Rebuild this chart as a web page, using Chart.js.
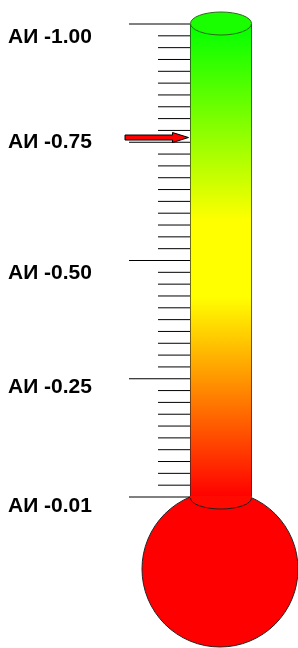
<!DOCTYPE html>
<html><head><meta charset="utf-8">
<script src="https://cdn.jsdelivr.net/npm/chart.js@4.4.0/dist/chart.umd.min.js"></script>
<style>html,body{margin:0;padding:0;background:#fff;}#wrap{width:298px;height:648px;}</style>
</head><body><div id="wrap"><canvas id="c" width="298" height="648"></canvas></div>
<script>
// ---- data ----
const categories = ['АИ'];
const scaleMin = -1.00;
const scaleMax = 0.00;
const tubeRange = [0.00, -1.00];
const pointerValue = -0.76;
const majorValues = [-1.00, -0.75, -0.50, -0.25, 0.00];
const tickLabels = ['АИ -1.00', 'АИ -0.75', 'АИ -0.50', 'АИ -0.25', 'АИ -0.01'];
const minorStep = 0.025;

// ---- styles ----
const labelNudge = [13, 0, 13, 8, 9];
const gradientStops = [[0, '#00ff00'], [0.415, '#ffff00'], [0.577, '#ffff00'], [1, '#ff0000']];

const thermo = {
  id: 'thermo',
  beforeDatasetsDraw(chart) {
    const { ctx, chartArea: a } = chart;
    const cx = (a.left + a.right) / 2;
    ctx.save();
    ctx.beginPath();
    ctx.arc(cx - 1, a.bottom + 72, 78, 0, Math.PI * 2);
    ctx.fillStyle = '#ff0000';
    ctx.fill();
    ctx.lineWidth = 1;
    ctx.strokeStyle = '#222';
    ctx.stroke();
    ctx.restore();
  },
  afterDatasetsDraw(chart) {
    const { ctx, chartArea: a } = chart;
    const y = chart.scales.y;
    const cx = (a.left + a.right) / 2;
    const rx = (a.right - a.left) / 2;
    ctx.save();
    // bottom of tube
    ctx.beginPath();
    ctx.moveTo(a.left, a.bottom - 1);
    ctx.lineTo(a.left, a.bottom + 1);
    ctx.ellipse(cx, a.bottom + 1, rx - 0.5, 11, 0, Math.PI, 0, true);
    ctx.lineTo(a.right, a.bottom - 1);
    ctx.closePath();
    ctx.fillStyle = '#ff0a00';
    ctx.fill();
    ctx.beginPath();
    ctx.ellipse(cx, a.bottom + 1, rx - 0.5, 11, 0, Math.PI, 0, true);
    ctx.lineWidth = 1;
    ctx.strokeStyle = '#222';
    ctx.stroke();
    // top cap
    ctx.beginPath();
    ctx.ellipse(cx, a.top - 0.5, rx - 0.5, 11.5, 0, 0, Math.PI * 2);
    ctx.fillStyle = '#1aff00';
    ctx.fill();
    ctx.strokeStyle = '#2a6a1a';
    ctx.stroke();
    // ticks
    ctx.strokeStyle = '#000';
    ctx.lineWidth = 1;
    y.ticks.forEach(t => {
      const isMajor = majorValues.some(m => Math.abs(m - t.value) < 1e-6);
      const py = y.getPixelForValue(t.value);
      ctx.beginPath();
      ctx.moveTo(isMajor ? a.left - 61 : a.left - 32, py);
      ctx.lineTo(a.left, py);
      ctx.stroke();
    });
    // labels
    ctx.fillStyle = '#000';
    ctx.font = 'bold 21px "Liberation Sans", Arial, sans-serif';
    ctx.textBaseline = 'middle';
    ctx.textAlign = 'left';
    majorValues.forEach((v, i) => {
      ctx.fillText(tickLabels[i], 8, y.getPixelForValue(v) + labelNudge[i]);
    });
    // pointer arrow
    const py = y.getPixelForValue(pointerValue);
    const tip = a.left - 1.5;
    ctx.beginPath();
    ctx.moveTo(125, py - 2.5);
    ctx.lineTo(tip - 16, py - 2.5);
    ctx.lineTo(tip - 16, py - 5);
    ctx.lineTo(tip, py);
    ctx.lineTo(tip - 16, py + 5);
    ctx.lineTo(tip - 16, py + 2.5);
    ctx.lineTo(125, py + 2.5);
    ctx.closePath();
    ctx.fillStyle = '#ff0000';
    ctx.fill();
    ctx.strokeStyle = '#000';
    ctx.stroke();
    ctx.restore();
  }
};

new Chart(document.getElementById('c'), {
  type: 'bar',
  data: {
    labels: categories,
    datasets: [{
      data: [tubeRange],
      barPercentage: 1,
      categoryPercentage: 1,
      borderWidth: { left: 1, right: 1, top: 0, bottom: 0 },
      borderColor: '#222',
      borderSkipped: false,
      backgroundColor: (c) => {
        const a = c.chart.chartArea;
        if (!a) return '#ff0000';
        const g = c.chart.ctx.createLinearGradient(0, a.top, 0, a.bottom);
        gradientStops.forEach(s => g.addColorStop(s[0], s[1]));
        return g;
      }
    }]
  },
  options: {
    responsive: false,
    animation: false,
    devicePixelRatio: 1,
    layout: { padding: { left: 190, right: 46, top: 24, bottom: 151 } },
    plugins: { legend: { display: false }, tooltip: { enabled: false } },
    scales: {
      x: { display: false },
      y: { display: false, min: scaleMin, max: scaleMax, reverse: true,
           ticks: { stepSize: minorStep, maxTicksLimit: 100, autoSkip: false } }
    }
  },
  plugins: [thermo]
});
</script>
</body></html>
